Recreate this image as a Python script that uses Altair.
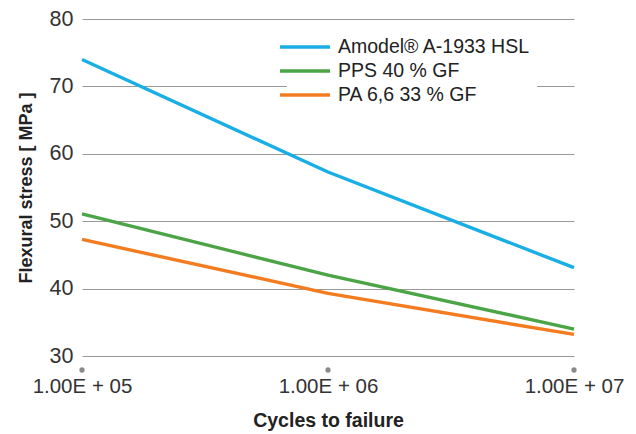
import altair as alt
import pandas as pd

cycles = [1e5, 1e6, 1e7]
series_names = ["Amodel® A-1933 HSL", "PPS 40 % GF", "PA 6,6 33 % GF"]
amodel = [74.0, 57.3, 43.1]
pps = [51.1, 42.0, 34.0]
pa66 = [47.3, 39.3, 33.2]
colors = ["#19aee6", "#4ba446", "#f47c20"]

rows = []
for name, vals in zip(series_names, [amodel, pps, pa66]):
    for c, v in zip(cycles, vals):
        rows.append({"Cycles": c, "Stress": v, "Material": name})
df = pd.DataFrame(rows)
ticks_df = pd.DataFrame({"Cycles": cycles})

FONT = "Liberation Sans"
W, H = 492, 337

xscale = alt.Scale(type="log", domain=[1e5, 1e7])

lines = alt.Chart(df).mark_line(strokeWidth=3.4).encode(
    x=alt.X("Cycles:Q", scale=xscale,
            axis=alt.Axis(values=cycles, grid=False, domain=False, ticks=False,
                          labelExpr="'1.00E + ' + format(round(log(datum.value)/LN10), '02d')",
                          labelFontSize=20.5, labelColor="#333333", labelFont=FONT,
                          labelPadding=20, title="Cycles to failure", titleFont=FONT,
                          titleFontSize=19.5, titleFontWeight="bold", titleColor="#222222",
                          titlePadding=15, labelFlush=False)),
    y=alt.Y("Stress:Q", scale=alt.Scale(domain=[30, 80]),
            axis=alt.Axis(values=[30, 40, 50, 60, 70, 80], grid=True, gridColor="#999999",
                          gridWidth=1, domain=False, ticks=False, labelFontSize=21.5,
                          labelColor="#333333", labelFont=FONT, labelPadding=9,
                          title="Flexural stress [ MPa ]", titleFont=FONT, titleFontSize=18,
                          titleFontWeight="bold", titleColor="#222222", titlePadding=14)),
    color=alt.Color("Material:N", scale=alt.Scale(domain=series_names, range=colors),
                    sort=series_names,
                    legend=alt.Legend(orient="none", legendX=205, legendY=10, title=None,
                                      symbolType="M-2.5,0H2.5", symbolStrokeWidth=3.4,
                                      symbolSize=400, labelFontSize=19.5, labelFont=FONT,
                                      labelColor="#222222", rowPadding=2, fillColor="white",
                                      padding=6, labelOffset=21, labelLimit=400)),
)

dots = alt.Chart(ticks_df).mark_circle(size=28, color="#8a8a8a", opacity=1).encode(
    x=alt.X("Cycles:Q", scale=xscale),
    y=alt.value(H + 14),
)

chart = alt.layer(lines, dots).properties(
    width=W, height=H,
    autosize=alt.AutoSizeParams(type="none"),
    padding={"left": 74, "top": 11, "right": 54, "bottom": 76},
).configure_view(stroke=None)
chart.save("out.html", embed_options={"renderer": "svg", "actions": False})
